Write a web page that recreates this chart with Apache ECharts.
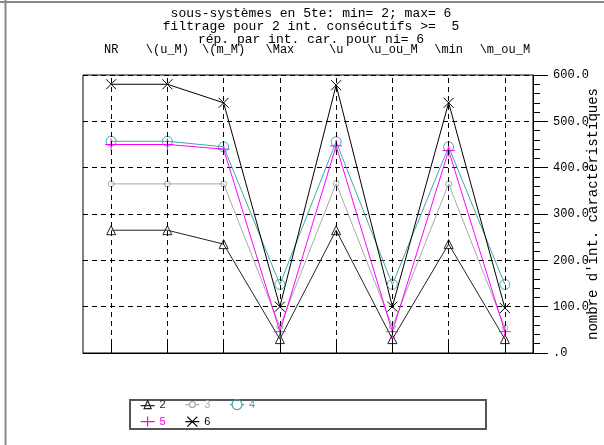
<!DOCTYPE html>
<html>
<head>
<meta charset="utf-8">
<script src="https://cdn.jsdelivr.net/npm/echarts@6/dist/echarts.min.js"></script>
<style>html,body{margin:0;padding:0;background:#fff}#c{width:604px;height:445px}</style>
</head>
<body>
<div id="c"></div>
<script>
var categories = ['NR', '\\(u_M)', '\\(m_M)', '\\Max', '\\u', '\\u_ou_M', '\\min', '\\m_ou_M'];
var s2 = [265, 265, 235, 30, 265, 30, 235, 30];
var s3 = [365, 365, 365, 57, 366, 57, 365, 55];
var s4 = [457, 457, 445, 148, 456, 148, 445, 148];
var s5 = [450, 450, 440, 46, 447, 46, 437, 46];
var s6 = [580, 580, 540, 100, 578, 100, 540, 97];
var yTicks = [0, 100, 200, 300, 400, 500, 600];
var titleLines = ['sous-systèmes en 5te: min= 2; max= 6', 'filtrage pour 2 int. consécutifs >=  5', 'rép. par int. car. pour ni= 6'];
var yName = "nombre d'int. caractéristiques";

var mono = 'Liberation Mono';
var colors = { '2': '#222', '3': '#a8a8a8', '4': '#40a8a8', '5': '#ff00ff', '6': '#000' };
var legendIcons = {
  '2': 'path://M0,6L14,6M7,1L10.5,9L3.5,9Z',
  '3': 'path://M0,5L4,5M10,5L14,5M4,5A3,3,0,1,1,10,5A3,3,0,1,1,4,5',
  '4': 'path://M0,5L2,5M12,5L14,5M2,5A5,5,0,1,1,12,5A5,5,0,1,1,2,5',
  '5': 'path://M0,5L14,5M7,0L7,10',
  '6': 'path://M0,5L14,5M2,0L12,10M12,0L2,10'
};
function mk(name, data, symbol, size) {
  var color = colors[name];
  return {
    name: name, type: 'line', data: data,
    symbol: symbol, symbolSize: size,
    lineStyle: { color: color, width: 1 },
    itemStyle: { color: 'rgba(0,0,0,0)', borderColor: color, borderWidth: 1 },
    emphasis: { disabled: true },
    animation: false
  };
}
var series = [
  mk('2', s2, 'path://M5,0L10,10L0,10Z', [9, 9]),
  mk('3', s3, 'circle', 6),
  mk('4', s4, 'circle', 10),
  mk('5', s5, 'path://M0,5L10,5M5,0L5,10', 12),
  mk('6', s6, 'path://M0,0L10,10M10,0L0,10', 10)
];
series[0].markLine = {
  silent: true, symbol: 'none', animation: false,
  label: { show: false },
  lineStyle: { color: '#000', width: 1, type: [5, 4] },
  data: categories.map(function (c) { return { xAxis: c }; })
};

function legItem(name) {
  var c = colors[name];
  return {
    name: name,
    icon: legendIcons[name],
    itemStyle: { color: 'rgba(0,0,0,0)', borderColor: c, borderWidth: 1.2, opacity: 1 },
    textStyle: { color: c, fontFamily: 'Liberation Sans', fontSize: 11, width: 80, padding: [0, 0, 5, 0] }
  };
}
var chart = echarts.init(document.getElementById('c'), null, { renderer: 'canvas' });
chart.setOption({
  animation: false,
  title: {
    text: titleLines.join('\n'), left: 306, top: 2, textAlign: 'center',
    textStyle: { fontFamily: mono, fontSize: 13, fontWeight: 'normal', color: '#000', lineHeight: 13 }
  },
  grid: { left: 83, right: 71, top: 75, bottom: 92, outerBoundsMode: 'none', containLabel: false,
    show: true, borderColor: '#000', borderWidth: 1, backgroundColor: 'transparent' },
  xAxis: {
    type: 'category', data: categories, position: 'top', boundaryGap: true,
    axisLine: { show: true, lineStyle: { color: '#000', width: 1 } },
    axisTick: { show: true, alignWithLabel: true, length: 13, lineStyle: { color: '#000' } },
    axisLabel: { margin: 19, fontFamily: mono, fontSize: 12, color: '#000', interval: 0, hideOverlap: false },
    splitLine: { show: false }
  },
  yAxis: {
    type: 'value', position: 'right', min: 0, max: 600, interval: 100,
    name: yName, nameLocation: 'middle', nameRotate: 90, nameGap: 53, nameMoveOverlap: false,
    nameTextStyle: { fontFamily: mono, fontSize: 14, color: '#000' },
    axisLine: { show: true, lineStyle: { color: '#000', width: 1 } },
    axisTick: { show: true, length: 15, inside: false, lineStyle: { color: '#000' } },
    minorTick: { show: true, splitNumber: 5, length: 7, lineStyle: { color: '#000' } },
    axisLabel: { margin: 20, fontFamily: mono, fontSize: 12, color: '#000',
      formatter: function (v) { return yTicks.indexOf(v) === 0 ? '.0' : v.toFixed(1); } },
    splitLine: { show: true, lineStyle: { color: '#000', width: 1, type: [5, 4] } }
  },
  legend: [
    { left: 140, top: 399, itemWidth: 14, itemHeight: 10, itemGap: 19, padding: 0, selectedMode: false,
      data: ['2', '3', '4'].map(legItem) },
    { left: 140, top: 416, itemWidth: 14, itemHeight: 10, itemGap: 19, padding: 0, selectedMode: false,
      data: ['5', '6'].map(legItem) }
  ],
  graphic: [
    { type: 'rect', shape: { x: 130, y: 400, width: 356, height: 29 }, style: { fill: 'none', stroke: '#555', lineWidth: 2 }, silent: true },
    { type: 'line', shape: { x1: 0, y1: 2, x2: 604, y2: 2 }, style: { stroke: '#888', lineWidth: 2 }, silent: true },
    { type: 'line', shape: { x1: 5.5, y1: 0, x2: 5.5, y2: 445 }, style: { stroke: '#888', lineWidth: 2 }, silent: true }
  ],
  series: series
});
</script>
</body>
</html>
